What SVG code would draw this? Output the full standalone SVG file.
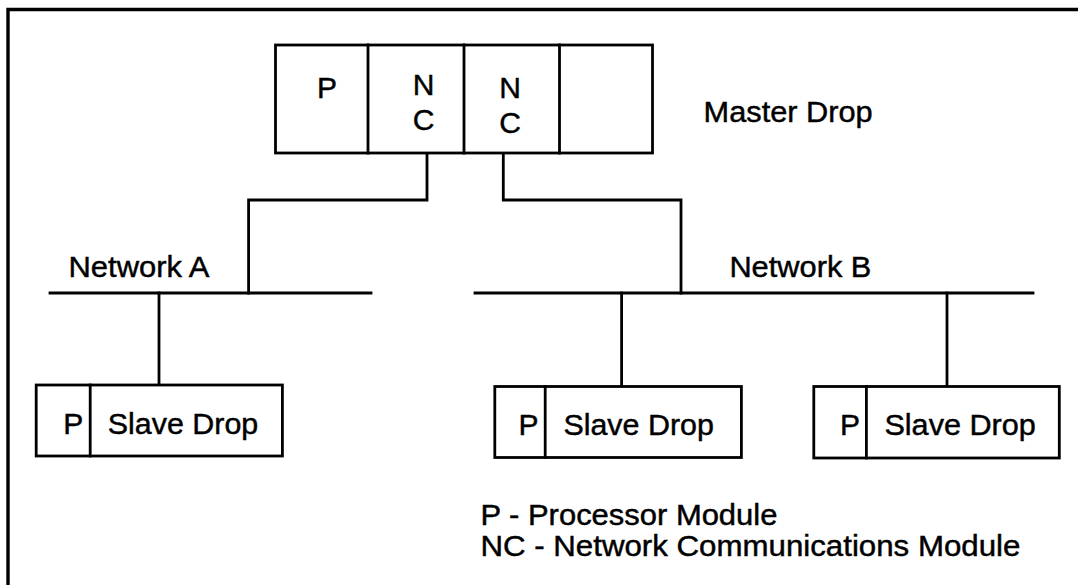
<svg xmlns="http://www.w3.org/2000/svg" width="1078" height="585" viewBox="0 0 1078 585">
<style>
.box{fill:#fff;stroke:#000;stroke-width:2.8;stroke-linejoin:miter}
.ln{fill:none;stroke:#000;stroke-width:2.8;stroke-linecap:square;stroke-linejoin:miter}
.frame{fill:none;stroke:#000;stroke-width:3.4}
text{font-family:"Liberation Sans",Arial,Helvetica,sans-serif;font-size:30px;fill:#000;stroke:#000;stroke-width:0.45}
.mid{text-anchor:middle}
.leg{font-size:29px}
</style>
<rect width="1078" height="585" fill="#fff"/>
<path class="frame" d="M8,600 V9.5 H1090"/>
<g id="connectors">
<path class="ln" d="M427,153 V200 H248.6 V293"/>
<path class="ln" d="M503.3,153 V200 H681 V293"/>
<path class="ln" d="M50,293 H371"/>
<path class="ln" d="M475,293 H1033"/>
<path class="ln" d="M159,293 V385"/>
<path class="ln" d="M621.6,293 V386.5"/>
<path class="ln" d="M947,293 V386.5"/>
</g>
<g id="master-drop">
<rect class="box" x="275.5" y="45" width="377" height="108"/>
<path class="ln" d="M368,45 V153 M464,45 V153 M559.5,45 V153"/>
<text class="mid" x="327" y="98">P</text>
<text class="mid" x="423.5" y="95">N</text>
<text class="mid" x="423.5" y="130">C</text>
<text class="mid" x="510" y="97.5">N</text>
<text class="mid" x="510" y="132.5">C</text>
<text x="703.6" y="122" textLength="169" lengthAdjust="spacingAndGlyphs">Master Drop</text>
</g>
<g id="network-a-label"><text x="68.5" y="277" textLength="141" lengthAdjust="spacingAndGlyphs">Network A</text></g>
<g id="network-b-label"><text x="729.4" y="277" textLength="142" lengthAdjust="spacingAndGlyphs">Network B</text></g>
<g id="slave-drop-a">
<rect class="box" x="36.2" y="385" width="246.2" height="71"/>
<path class="ln" d="M90.2,385 V456"/>
<text class="mid" x="73.3" y="433.5">P</text>
<text x="107.8" y="433.5" textLength="150.5" lengthAdjust="spacingAndGlyphs">Slave Drop</text>
</g>
<g id="slave-drop-b1">
<rect class="box" x="494.8" y="386.5" width="246.6" height="71"/>
<path class="ln" d="M545.2,386.5 V457.5"/>
<text class="mid" x="528.6" y="434.5">P</text>
<text x="563.4" y="434.5" textLength="150.5" lengthAdjust="spacingAndGlyphs">Slave Drop</text>
</g>
<g id="slave-drop-b2">
<rect class="box" x="813.8" y="386.5" width="245.5" height="71.5"/>
<path class="ln" d="M866.4,386.5 V458"/>
<text class="mid" x="850" y="434.5">P</text>
<text x="884.4" y="434.5" textLength="151.5" lengthAdjust="spacingAndGlyphs">Slave Drop</text>
</g>
<g id="legend">
<text class="leg" x="480.4" y="525" textLength="297" lengthAdjust="spacingAndGlyphs">P - Processor Module</text>
<text class="leg" x="480.4" y="556" textLength="540" lengthAdjust="spacingAndGlyphs">NC - Network Communications Module</text>
</g>
</svg>
